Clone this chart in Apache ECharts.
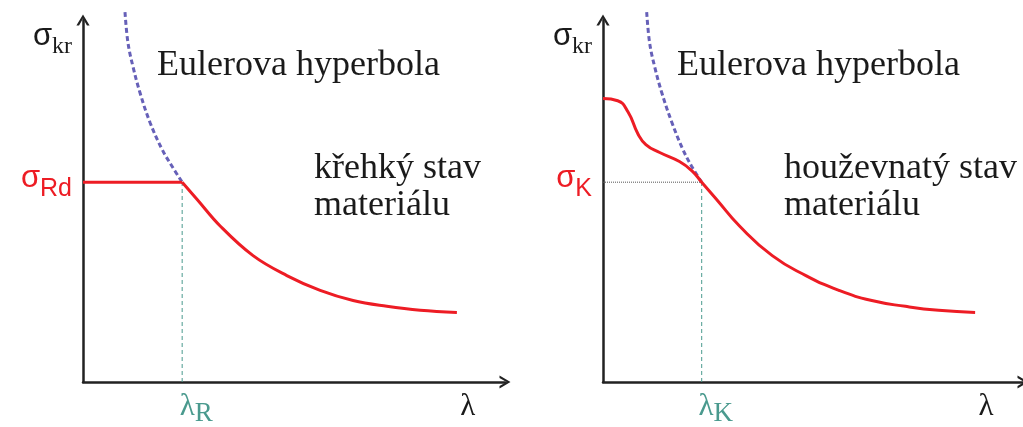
<!DOCTYPE html>
<html>
<head>
    <meta charset="UTF-8">
    <title>Eulerova hyperbola</title>
    <script type="text/javascript" src="https://cdn.jsdelivr.net/npm/echarts@6/dist/echarts.min.js"></script>
    <style type="text/css">
        html, body { margin: 0; padding: 0; background: #fff; }
        #main { width: 1023px; height: 427px; }
    </style>
</head>
<body>
<div id="main"></div>
<script>
// souradnice v libovolnych jednotkach: lambda 0..100, sigma 0..100
var lambdaR = 23.5, sigmaRd = 55.2;
var lambdaK = 23.5, sigmaK = 55.2;
var yNamePos = 94.5;   // kde stoji popisek sigma_kr
var xNamePos = 91.2;   // kde stoji popisek lambda

// levy graf - krehky stav
var eulerA = [[9.95, 102.2], [10.66, 93.7], [11.85, 87.1], [13.51, 79.9], [15.88, 71.7], [18.72, 64.3], [21.09, 59.6], [23.5, 55.2]];
var plateauA = [[0, 55.2], [23.5, 55.2]];
var curveA = [[23.5, 55.2], [27.0, 50.5], [32.5, 43.1], [40.3, 34.9], [48.3, 29.4], [56.2, 25.3], [64.0, 22.5], [72.0, 20.9], [79.9, 19.8], [88.6, 19.2]];

// pravy graf - houzevnaty stav
var eulerB = [[10.4, 102.2], [11.1, 93.7], [12.3, 87.1], [14.0, 79.9], [16.4, 71.7], [19.0, 64.3], [21.1, 59.6], [23.5, 55.2]];
var curveB = [[0, 78.3], [3.5, 77.7], [6.0, 74.5], [8.3, 68.6], [10.2, 65.6], [13.5, 63.4], [18.2, 60.9], [21.3, 58.2], [23.5, 55.2],
    [27.0, 50.5], [32.5, 43.1], [40.3, 34.9], [48.3, 29.4], [56.2, 25.3], [64.0, 22.5], [72.0, 20.9], [79.9, 19.8], [88.6, 19.2]];

var RED = '#ed1c24', TEAL = '#4a9a8e', BLUE = '#6660b8', INK = '#1a1a1a';
var SERIF = '"Liberation Serif", "DejaVu Serif", serif';
var SANS = '"Liberation Sans", Arial, sans-serif';
var chevron = 'path://M0,10 L6,0 L12,10 L9.6,10 L6,3.6 L2.4,10 Z';

function axisLine() {
    return {
        show: true,
        symbol: ['none', chevron],
        symbolSize: [16, 11],
        lineStyle: { color: '#222', width: 2.5 }
    };
}

var yRich = {
    s: { fontFamily: SANS, fontSize: 31, color: INK, lineHeight: 38, verticalAlign: 'top' },
    kr: { fontFamily: SERIF, fontSize: 24, color: INK, lineHeight: 38, verticalAlign: 'bottom' },
    rs: { fontFamily: SANS, fontSize: 31, color: RED, lineHeight: 38, verticalAlign: 'top' },
    rsub: { fontFamily: SANS, fontSize: 25, color: RED, lineHeight: 38, verticalAlign: 'bottom' }
};
var xRich = {
    gap: { width: 28 },
    l: { fontFamily: SERIF, fontSize: 31, color: TEAL, lineHeight: 36, verticalAlign: 'top' },
    lsub: { fontFamily: SERIF, fontSize: 27, color: TEAL, lineHeight: 36, verticalAlign: 'bottom' },
    lam: { fontFamily: SERIF, fontSize: 31, color: INK, lineHeight: 36, verticalAlign: 'top' }
};

function yAxisFor(idx, sub, sigVal) {
    return {
        gridIndex: idx, type: 'value', min: 0, max: 100,
        axisLine: axisLine(), axisTick: { show: false }, splitLine: { show: false },
        axisLabel: {
            customValues: [sigVal, yNamePos],
            margin: 11,
            formatter: function (v) {
                return v > 90 ? '{s|σ}{kr|kr}' : '{rs|σ}{rsub|' + sub + '}';
            },
            rich: yRich
        }
    };
}
function xAxisFor(idx, sub, lamVal) {
    return {
        gridIndex: idx, type: 'value', min: 0, max: 100,
        axisLine: axisLine(), axisTick: { show: false }, splitLine: { show: false },
        axisLabel: {
            customValues: [lamVal, xNamePos],
            margin: 9,
            formatter: function (v) {
                return v > 50 ? '{lam|λ}' : '{gap|}{l|λ}{lsub|' + sub + '}';
            },
            rich: xRich
        }
    };
}

function line(idx, data, color, width, type, smooth) {
    return {
        type: 'line', xAxisIndex: idx, yAxisIndex: idx, data: data,
        showSymbol: false, symbol: 'none', smooth: smooth, clip: false,
        lineStyle: { color: color, width: width, type: type },
        silent: true
    };
}

var myChart = echarts.init(document.getElementById('main'));
myChart.setOption({
    animation: false,
    backgroundColor: '#fff',
    grid: [
        { left: 83, top: 20, width: 422, height: 364 },
        { left: 603, top: 20, width: 422, height: 364 }
    ],
    xAxis: [xAxisFor(0, 'R', lambdaR), xAxisFor(1, 'K', lambdaK)],
    yAxis: [yAxisFor(0, 'Rd', sigmaRd), yAxisFor(1, 'K', sigmaK)],
    series: [
        line(0, [[lambdaR, 0], [lambdaR, sigmaRd]], TEAL, 1, [4, 3], false),
        line(0, eulerA, BLUE, 3, [5, 3], 0.4),
        line(0, plateauA, RED, 3, 'solid', false),
        line(0, curveA, RED, 3, 'solid', 0.4),
        line(1, [[lambdaK, 0], [lambdaK, sigmaK]], TEAL, 1, [4, 3], false),
        line(1, [[0, sigmaK], [lambdaK, sigmaK]], '#555', 1, 'dotted', false),
        line(1, eulerB, BLUE, 3, [5, 3], 0.4),
        line(1, curveB, RED, 3, 'solid', 0.5)
    ],
    graphic: [
        { type: 'text', x: 157, y: 66, style: { text: 'Eulerova hyperbola', font: '36px ' + SERIF, fill: INK, verticalAlign: 'middle' } },
        { type: 'text', x: 314, y: 187.5, style: { text: 'křehký stav\nmateriálu', font: '36px ' + SERIF, lineHeight: 37, fill: INK, verticalAlign: 'middle' } },
        { type: 'text', x: 677, y: 66, style: { text: 'Eulerova hyperbola', font: '36px ' + SERIF, fill: INK, verticalAlign: 'middle' } },
        { type: 'text', x: 784, y: 187.5, style: { text: 'houževnatý stav\nmateriálu', font: '36px ' + SERIF, lineHeight: 37, fill: INK, verticalAlign: 'middle' } }
    ]
});
</script>
</body>
</html>
